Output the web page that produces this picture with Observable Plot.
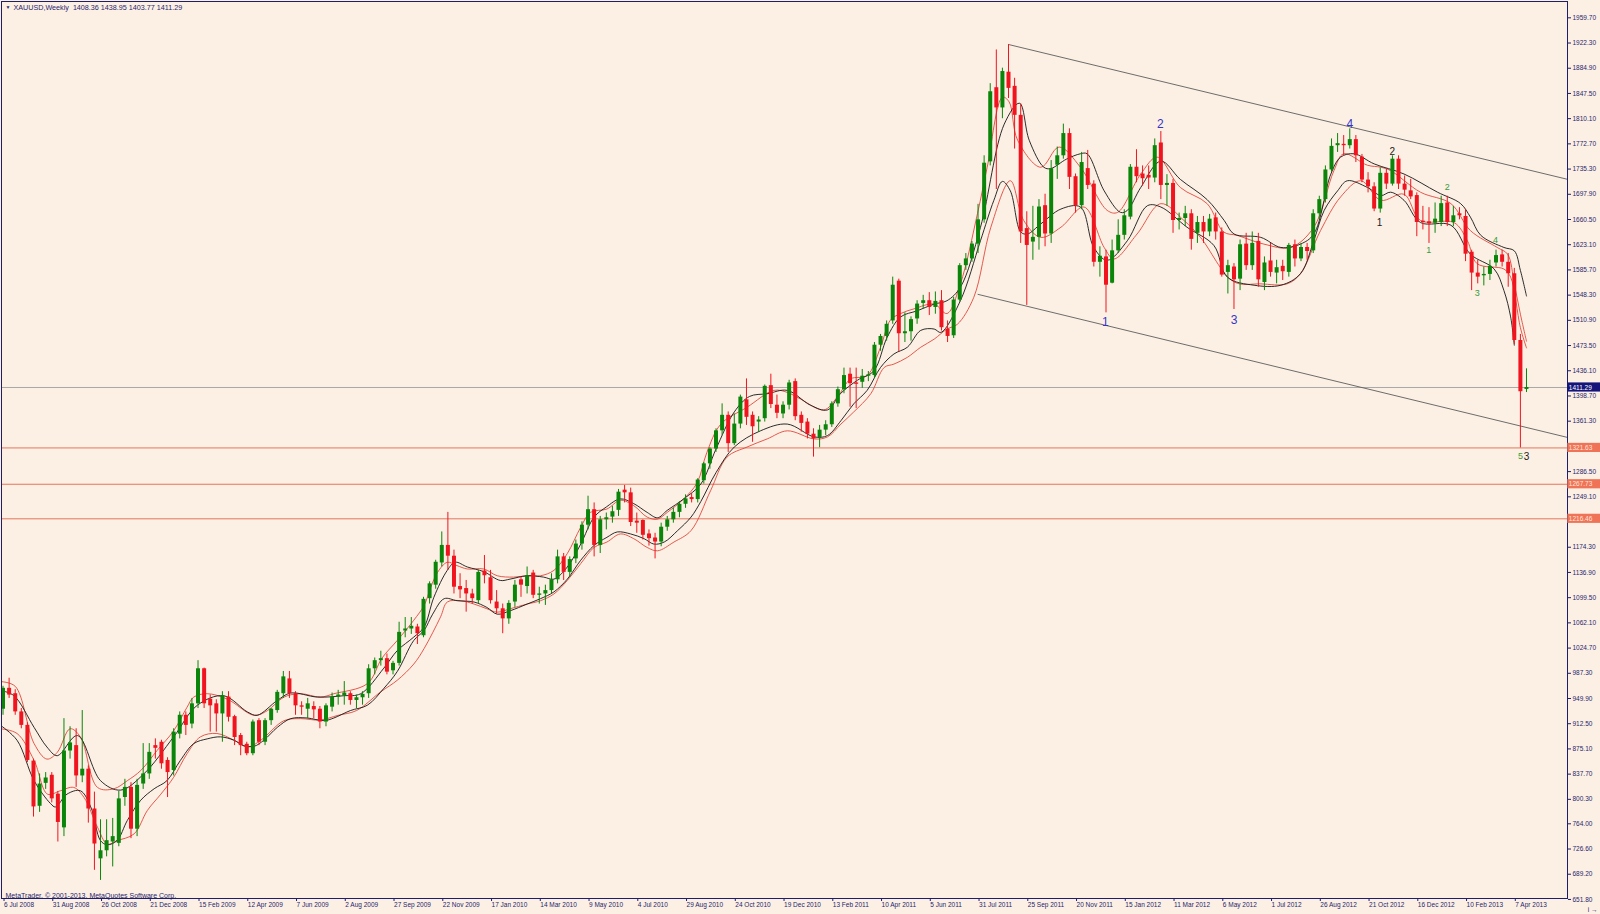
<!DOCTYPE html>
<html><head><meta charset="utf-8">
<script src="https://cdn.jsdelivr.net/npm/d3@7"></script>
<script src="https://cdn.jsdelivr.net/npm/@observablehq/plot@0.6"></script>
<style>
html,body{margin:0;padding:0;background:#fcf0e4;overflow:hidden;}
#chart svg{display:block;}
</style></head><body><div id="chart"></div>
<script>
// weekly candles, index 0 = week of 6 Jul 2008
const opens = [934,965,957,930,910,857,790,824,836,808,758,872,880,835,845,786,712,724,737,735,803,818,756,823,838,880,885,858,843,897,925,912,942,994,949,942,927,952,923,895,882,868,917,885,917,932,957,979,957,939,934,938,934,915,937,952,954,957,947,951,957,994,1006,1009,991,1002,1050,1053,1056,1043,1098,1118,1151,1177,1161,1116,1113,1105,1095,1139,1129,1093,1083,1068,1093,1126,1116,1136,1103,1105,1110,1126,1160,1137,1157,1179,1207,1230,1177,1215,1219,1229,1259,1255,1213,1214,1194,1188,1182,1204,1215,1226,1238,1248,1245,1273,1298,1320,1347,1370,1328,1357,1393,1370,1360,1365,1414,1385,1372,1385,1420,1370,1360,1342,1337,1348,1356,1387,1408,1431,1418,1419,1428,1429,1474,1487,1510,1569,1491,1494,1513,1536,1540,1530,1540,1498,1488,1541,1592,1602,1624,1660,1746,1856,1826,1879,1858,1815,1647,1627,1634,1681,1639,1741,1755,1788,1724,1681,1736,1713,1597,1605,1566,1614,1637,1664,1738,1728,1726,1722,1774,1711,1714,1659,1662,1669,1640,1656,1642,1663,1642,1582,1590,1572,1624,1592,1628,1567,1599,1581,1591,1582,1623,1602,1619,1614,1669,1690,1734,1770,1772,1770,1779,1753,1719,1709,1676,1729,1713,1750,1713,1703,1696,1658,1657,1655,1656,1685,1656,1669,1665,1612,1581,1577,1579,1596,1608,1597,1580,1481,1408.36];
const highs = [968,980,963,935,914,860,838,840,840,812,920,908,905,932,850,811,770,770,772,812,830,825,830,883,883,890,888,862,905,930,930,950,1006,995,955,948,960,960,925,898,885,918,920,920,935,962,990,990,960,945,950,945,938,942,958,962,975,960,955,960,1000,1010,1020,1016,1005,1063,1070,1070,1060,1100,1123,1155,1197,1226,1170,1135,1125,1112,1140,1162,1140,1110,1090,1095,1125,1130,1145,1140,1115,1118,1135,1170,1165,1160,1185,1212,1250,1240,1220,1225,1235,1260,1266,1262,1225,1215,1200,1195,1210,1220,1232,1242,1252,1254,1276,1300,1322,1350,1387,1375,1372,1400,1424,1375,1368,1415,1431,1400,1390,1422,1424,1375,1365,1350,1355,1362,1390,1412,1440,1440,1440,1438,1435,1478,1490,1510,1575,1572,1522,1516,1540,1548,1552,1553,1555,1510,1545,1595,1610,1628,1683,1755,1862,1912,1885,1920,1870,1832,1672,1680,1690,1698,1748,1768,1802,1795,1728,1760,1763,1718,1620,1615,1630,1660,1675,1742,1764,1740,1740,1780,1791,1727,1720,1670,1680,1675,1665,1665,1668,1670,1648,1600,1595,1630,1640,1642,1640,1605,1625,1600,1600,1625,1630,1625,1625,1675,1695,1740,1780,1788,1785,1795,1785,1757,1730,1715,1737,1735,1755,1755,1725,1720,1700,1680,1678,1685,1695,1695,1680,1678,1675,1615,1600,1590,1600,1615,1615,1610,1588,1490,1438.95];
const lows = [925,950,925,905,855,774,781,815,795,737,745,860,818,825,765,695,680,715,700,730,790,742,745,815,830,860,845,803,835,890,895,905,935,935,900,900,885,915,880,865,865,865,880,880,910,928,950,950,925,925,920,920,905,908,930,940,940,940,935,940,950,985,998,985,985,998,1040,1045,1030,1040,1090,1112,1145,1140,1105,1098,1078,1090,1090,1120,1090,1075,1046,1060,1085,1100,1105,1098,1090,1088,1105,1120,1125,1130,1150,1170,1200,1160,1165,1200,1210,1220,1240,1205,1195,1185,1176,1157,1175,1198,1210,1218,1232,1240,1240,1268,1290,1315,1340,1315,1325,1350,1355,1330,1345,1360,1380,1365,1365,1378,1362,1345,1335,1308,1322,1340,1352,1382,1402,1382,1380,1410,1420,1425,1465,1480,1505,1464,1478,1480,1505,1528,1518,1520,1495,1478,1484,1538,1585,1597,1610,1655,1740,1705,1810,1840,1765,1625,1533,1600,1615,1620,1625,1720,1750,1705,1670,1675,1705,1590,1575,1522,1565,1610,1630,1660,1715,1710,1705,1715,1690,1680,1640,1645,1650,1615,1625,1625,1635,1630,1575,1550,1527,1555,1585,1585,1560,1555,1575,1565,1570,1575,1590,1598,1600,1610,1660,1685,1730,1760,1755,1765,1745,1715,1700,1672,1670,1705,1710,1705,1695,1690,1635,1645,1625,1640,1650,1650,1650,1660,1598,1555,1565,1562,1570,1590,1590,1560,1475,1321.63,1403.77];
const closes = [965,955,930,910,858,789,823,832,801,766,872,884,835,845,786,734,724,739,745,801,818,756,821,838,870,876,853,840,900,925,910,942,994,942,939,927,954,922,892,880,868,915,885,917,934,959,982,957,939,937,942,933,915,939,952,955,958,947,951,956,994,1006,1009,989,1002,1048,1053,1057,1046,1097,1120,1152,1177,1161,1115,1111,1105,1098,1137,1132,1095,1083,1068,1091,1118,1118,1132,1103,1105,1110,1126,1160,1137,1156,1179,1207,1230,1177,1215,1218,1227,1256,1255,1211,1210,1192,1187,1182,1204,1215,1226,1238,1246,1245,1274,1298,1320,1347,1370,1328,1357,1397,1367,1353,1363,1413,1386,1373,1385,1418,1368,1358,1342,1335,1348,1356,1387,1408,1429,1417,1416,1428,1430,1474,1487,1505,1563,1491,1494,1512,1535,1540,1530,1539,1500,1487,1541,1592,1602,1624,1660,1744,1850,1826,1880,1855,1815,1642,1622,1634,1679,1639,1736,1755,1788,1723,1681,1745,1711,1597,1606,1563,1614,1637,1666,1738,1724,1721,1722,1770,1711,1714,1659,1662,1669,1631,1656,1642,1661,1642,1578,1592,1571,1623,1592,1625,1571,1596,1582,1589,1583,1622,1602,1619,1613,1669,1690,1734,1769,1773,1770,1779,1755,1719,1709,1676,1729,1713,1750,1713,1704,1694,1656,1656,1654,1661,1684,1656,1666,1666,1609,1581,1575,1579,1591,1607,1597,1580,1481,1405,1411.29];

// indicator lines: [week index, price]
const blackUpper = [[-0.4,962],[1.8,954],[5.1,907],[7.2,878],[8.9,865],[12.2,895],[16.0,828],[19.3,814],[23.1,838],[28.0,893],[31.9,940],[36.2,954],[40.1,930],[41.7,925],[45.0,947],[47.2,958],[51.6,952],[55.9,954],[58.7,957],[62.5,995],[64.7,1021],[67.4,1041],[69.1,1056],[70.7,1100],[72.9,1140],[74.2,1152],[76.2,1145],[78.9,1138],[81.6,1125],[83.2,1127],[86,1132],[88.7,1130],[90.4,1127],[92.6,1145],[94.8,1179],[97,1219],[99,1234],[101.3,1246],[103.5,1239],[105.7,1226],[107.4,1218],[109,1229],[111.7,1246],[114.5,1268],[117,1320],[120,1375],[122.5,1398],[125.4,1402],[128.7,1407],[132.5,1385],[135.3,1378],[137.4,1402],[140.2,1422],[142.9,1436],[145.1,1486],[147.3,1516],[150,1525],[152.8,1535],[154.9,1540],[157.1,1560],[160.4,1649],[164.3,1802],[166.8,1833],[168.4,1778],[170.8,1738],[171.9,1736],[174.5,1750],[176.8,1758],[177.9,1758],[180.7,1703],[183.4,1671],[184.5,1674],[186.7,1708],[190.0,1747],[193.2,1720],[197.6,1690],[200.4,1659],[202.0,1639],[206.4,1634],[209.7,1619],[212.9,1624],[215.1,1639],[217.9,1728],[219.5,1753],[221.7,1758],[225.0,1743],[229.9,1728],[235.4,1701],[239.2,1684],[240.8,1664],[242.5,1637],[246.3,1619],[248.0,1614],[249.0,1585],[250.0,1547]];
const blackLower = [[-0.4,910],[2.3,888],[5.1,828],[7.8,794],[8.6,789],[10.5,808],[12.7,813],[14.4,789],[16.0,739],[17.1,733],[18.7,739],[20.4,769],[22.6,799],[24.8,816],[26.9,828],[29.1,858],[31.3,883],[33.5,890],[35.7,893],[37.9,888],[39.5,880],[41.2,879],[42.8,888],[45.0,907],[47.2,920],[49.9,921],[52.7,917],[54.3,921],[57.0,932],[59.8,940],[62.5,965],[64.7,990],[67.4,1036],[69.1,1051],[70.5,1075],[72.4,1098],[74.5,1095],[77.3,1093],[79.4,1085],[81.1,1075],[83.2,1080],[86,1090],[88.2,1098],[90.4,1108],[92.6,1127],[94.8,1155],[97,1177],[99.1,1189],[100.8,1197],[103,1194],[105.2,1187],[106.8,1179],[108.5,1182],[110.7,1199],[112.9,1219],[114.5,1242],[117,1285],[120,1323],[124.3,1347],[128.7,1357],[133.1,1338],[135.3,1340],[137.5,1362],[139.6,1387],[141.8,1407],[144.0,1441],[146.2,1461],[148.4,1471],[150.6,1496],[152.8,1498],[153.9,1493],[157.1,1540],[160.4,1629],[162.6,1689],[164.0,1717],[165.3,1703],[167.0,1642],[168.1,1639],[170.3,1654],[173.6,1676],[176.8,1679],[179.0,1619],[181.2,1600],[184.5,1629],[187.8,1681],[190.0,1679],[194.3,1649],[198.7,1622],[200.9,1575],[205.3,1563],[209.7,1563],[212.9,1580],[215.1,1629],[216.8,1674],[219.0,1703],[220.6,1718],[223.9,1708],[226.1,1696],[227.7,1701],[229.9,1689],[232.6,1656],[237.6,1652],[240.8,1609],[244.7,1587],[246.3,1555],[247.4,1516],[248.0,1474]];
const redUpper = [[-0.4,975],[2,968],[5.1,883],[7.2,860],[8.9,870],[11,905],[12.7,893],[15.5,818],[18.2,816],[20.4,828],[22.6,843],[25.3,873],[28,902],[30.2,937],[31.3,952],[33.5,957],[36.8,949],[41.2,925],[43.4,932],[46.1,952],[48.8,957],[52.1,952],[54.3,957],[59.8,972],[62.2,1010],[64.7,1036],[67.4,1066],[69.1,1088],[70.2,1115],[71.3,1137],[72.9,1152],[74.5,1147],[76.2,1142],[78.9,1142],[81.1,1132],[83.8,1130],[86,1132],[88.2,1132],[90.4,1140],[92.6,1165],[94.8,1204],[96.4,1226],[99.1,1231],[101.3,1244],[103.5,1236],[105.7,1219],[107.4,1216],[109,1226],[111.7,1246],[113.9,1270],[115.5,1315],[117.8,1357],[122.1,1382],[126.5,1407],[128.7,1404],[130.9,1394],[134.7,1378],[136.9,1397],[139.1,1424],[141.8,1429],[144.0,1471],[145.6,1511],[147.3,1521],[149.5,1528],[152.8,1535],[154.9,1521],[157.1,1565],[159.9,1669],[161.5,1738],[164.0,1842],[165.1,1835],[166.5,1778],[170.3,1738],[173.3,1768],[176.8,1738],[181.2,1674],[182.9,1671],[186.7,1728],[189.4,1753],[193.2,1708],[197.6,1684],[200.3,1642],[202.5,1637],[206.9,1624],[211.3,1619],[215.1,1649],[218.4,1733],[220.0,1758],[223.9,1741],[226.1,1738],[227.7,1733],[232.6,1701],[237.6,1684],[240.8,1644],[245.2,1619],[246.9,1609],[248.0,1565],[249.0,1520],[250.0,1480]];
const redLower = [[-0.4,905],[2.3,898],[5.1,858],[7.3,808],[9.4,813],[11.6,818],[13.3,803],[15.5,759],[17.1,734],[18.7,739],[21.5,749],[23.7,784],[25.9,808],[28,833],[30.2,868],[32.4,893],[35.1,898],[37.9,888],[40.1,878],[42.3,888],[46.1,917],[48.8,920],[52,918],[55,925],[58,932],[62,960],[64.7,977],[67.4,1001],[69.1,1024],[71.8,1071],[72.9,1093],[75.1,1095],[77.3,1090],[79.4,1083],[81.1,1078],[83.2,1083],[86,1090],[88.2,1095],[90.4,1105],[92.6,1125],[94.8,1150],[97,1174],[99.1,1182],[101.3,1194],[103.5,1187],[105.7,1174],[107.4,1169],[110.1,1182],[112.9,1199],[116.1,1258],[118.8,1308],[122.1,1323],[125.4,1335],[128.7,1347],[133.1,1335],[135.3,1338],[137.5,1357],[139.6,1375],[142.4,1402],[144.6,1441],[146.2,1446],[148.4,1456],[150.6,1471],[152.8,1483],[154.9,1498],[156.6,1505],[159.3,1545],[162.1,1649],[165.3,1718],[167.5,1659],[170.3,1634],[173.6,1649],[177.4,1679],[180.7,1619],[182.3,1602],[186.1,1639],[190.0,1684],[193.8,1659],[196.5,1634],[202.0,1568],[206.4,1565],[210.7,1565],[212.9,1580],[216.2,1644],[219.5,1694],[222.8,1718],[226.1,1689],[229.9,1698],[232.6,1659],[238.1,1656],[240.3,1629],[241.9,1595],[246.3,1587],[247.4,1575],[249.0,1500],[250.0,1470]];

const dateLabels = ["6 Jul 2008","31 Aug 2008","26 Oct 2008","21 Dec 2008","15 Feb 2009","12 Apr 2009","7 Jun 2009","2 Aug 2009","27 Sep 2009","22 Nov 2009","17 Jan 2010","14 Mar 2010","9 May 2010","4 Jul 2010","29 Aug 2010","24 Oct 2010","19 Dec 2010","13 Feb 2011","10 Apr 2011","5 Jun 2011","31 Jul 2011","25 Sep 2011","20 Nov 2011","15 Jan 2012","11 Mar 2012","6 May 2012","1 Jul 2012","26 Aug 2012","21 Oct 2012","16 Dec 2012","10 Feb 2013","7 Apr 2013"];
const dateTickIndex = [0,8,16,24,32,40,48,56,64,72,80,88,96,104,112,120,128,136,144,152,160,168,176,184,192,200,208,216,224,232,240,248];
const priceTicks = [1959.70,1922.30,1884.90,1847.50,1810.10,1772.70,1735.30,1697.90,1660.50,1623.10,1585.70,1548.30,1510.90,1473.50,1436.10,1398.70,1361.30,1286.50,1249.10,1174.30,1136.90,1099.50,1062.10,1024.70,987.30,949.90,912.50,875.10,837.70,800.30,764.00,726.60,689.20,651.80];

const levelPrices = [1321.63, 1267.73, 1216.46];
const currentPrice = 1411.29;
const upperChannel = [{i:165.05, p:1920.0},{i:256.73, p:1720.1}];
const lowerChannel = [{i:160.0, p:1549.4},{i:256.73, p:1337.2}];

const blueWaveText = ["1","2","3","4"];
const blueWaveI = [180.9, 189.9, 202.0, 221.0];
const blueWaveP = [1507.7, 1802.4, 1510.6, 1801.4];
const blackWaveText = ["1","2","3"];
const blackWaveI = [225.9, 227.96, 250.0];
const blackWaveP = [1655.0, 1760.3, 1308.9];
const greenWaveText = ["1","2","3","4","5"];
const greenWaveI = [233.97, 237.0, 241.9, 244.9, 249.0];
const greenWaveP = [1615.5, 1708.4, 1551.2, 1629.3, 1308.9];

const titleText = "XAUUSD,Weekly  1408.36 1438.95 1403.77 1411.29";
const copyrightText = "MetaTrader, \u00a9 2001-2013, MetaQuotes Software Corp.";

// ---- build ----
const BG = "#fcf0e4", NAVY = "#1e1e6e", GREEN = "#0a850a", RED = "#f0141e";
const candles = closes.map((c, i) => ({i, o: opens[i], h: highs[i], l: lows[i], c, col: c >= opens[i] ? GREEN : RED}));
const waves = (t, xs, ps) => t.map((s, k) => ({t: s, i: xs[k], p: ps[k]}));
const boxes = [
  {p: currentPrice, bg: "#14147a", fg: "#ffffff"},
  ...levelPrices.map(p => ({p, bg: "#ef7356", fg: "#ffe6dc"}))
];
const font = "'Liberation Sans', Arial, sans-serif";
const lineOpts = (stroke) => ({x: d => d[0], y: d => d[1], stroke, strokeWidth: 0.9, curve: "catmull-rom", clip: true});

const chart = Plot.plot({
  width: 1600, height: 914,
  marginTop: 1, marginBottom: 16, marginLeft: 1, marginRight: 33,
  style: {background: BG, color: NAVY, fontFamily: font, overflow: "visible"},
  x: {type: "linear", domain: [-0.25, 256.73], axis: null},
  y: {type: "linear", domain: [653.2, 1983.9], axis: null},
  color: {type: "identity"},
  marks: [
    Plot.ruleY([currentPrice], {stroke: "#a8a8a8", strokeWidth: 1}),
    Plot.ruleY(levelPrices, {stroke: "#e4765e", strokeWidth: 1}),
    Plot.line(upperChannel, {x: "i", y: "p", stroke: "#5c5c5c", strokeWidth: 0.9, clip: true}),
    Plot.line(lowerChannel, {x: "i", y: "p", stroke: "#5c5c5c", strokeWidth: 0.9, clip: true}),
    Plot.line(redLower, lineOpts("#e2463c")),
    Plot.line(redUpper, lineOpts("#e2463c")),
    Plot.line(blackLower, lineOpts("#151515")),
    Plot.line(blackUpper, lineOpts("#151515")),
    Plot.ruleX(candles, {x: "i", y1: "l", y2: "h", stroke: "col", strokeWidth: 1}),
    Plot.ruleX(candles, {x: "i", y1: "o", y2: "c", stroke: "col", strokeWidth: 4}),
    Plot.text(waves(blueWaveText, blueWaveI, blueWaveP), {x: "i", y: "p", text: "t", fill: "#3434c8", fontSize: 12}),
    Plot.text(waves(blackWaveText, blackWaveI, blackWaveP), {x: "i", y: "p", text: "t", fill: "#1a1a1a", fontSize: 10}),
    Plot.text(waves(greenWaveText, greenWaveI, greenWaveP), {x: "i", y: "p", text: "t", fill: "#3a9a3a", fontSize: 9}),
    Plot.frame({stroke: NAVY, strokeWidth: 1}),
    Plot.axisY({anchor: "right", ticks: priceTicks, tickFormat: d => d.toFixed(2), tickSize: 3, tickPadding: 2, fontSize: 6.5, stroke: NAVY, fill: NAVY}),
    Plot.axisX({anchor: "bottom", ticks: dateTickIndex, tickFormat: d => dateLabels[dateTickIndex.indexOf(d)], tickSize: 3, tickPadding: 1, textAnchor: "start", dx: 1, fontSize: 6.5, stroke: NAVY, fill: NAVY}),
    Plot.rect(boxes, {x1: 256.78, x2: 262.6, y1: d => d.p - 6.8, y2: d => d.p + 6.8, fill: "bg"}),
    Plot.text(boxes, {x: 256.95, y: "p", text: d => d.p.toFixed(2), fill: "fg", textAnchor: "start", fontSize: 6.5}),
    Plot.text(["\u25BC"], {frameAnchor: "top-left", dx: 4, dy: 4, fontSize: 5, fill: NAVY}),
    Plot.text([titleText], {frameAnchor: "top-left", dx: 12, dy: 3, fontSize: 7.2, fill: NAVY}),
    Plot.text([copyrightText], {frameAnchor: "bottom-left", dx: 4, dy: -1, fontSize: 7, fill: NAVY})
  ]
});
document.getElementById("chart").appendChild(chart);
</script>
</body></html>
